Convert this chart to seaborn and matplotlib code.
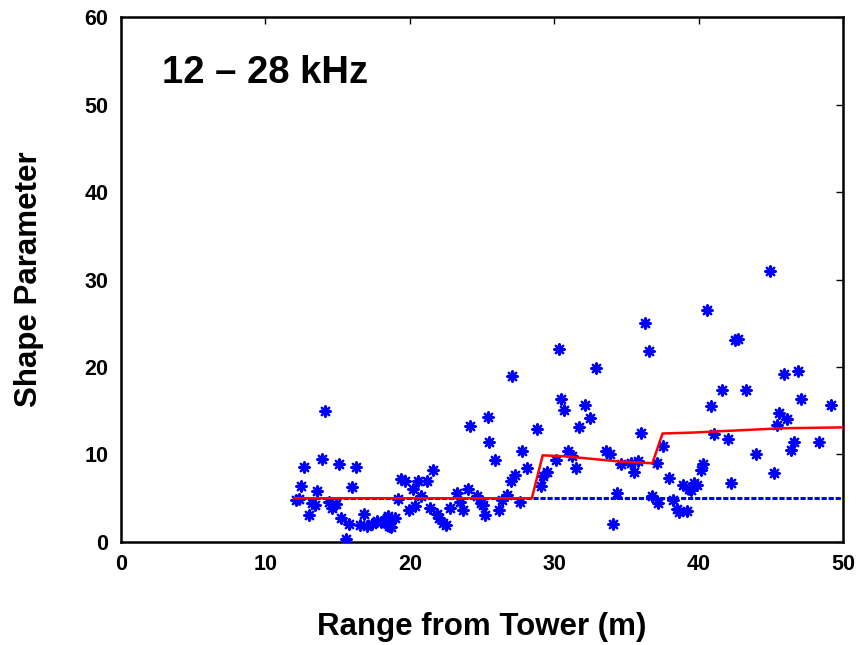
import numpy as np
import pandas as pd
import matplotlib
matplotlib.use("Agg")
import matplotlib.pyplot as plt
import seaborn as sns

# puntos medidos (rango en m, parametro de forma)
rango = [14.1, 12.7, 13.9, 15.1, 16.3, 12.45, 13.6, 16.0, 12.15, 13.2,
         13.45, 14.4, 14.6, 14.9, 13.0, 15.25, 15.8, 15.6, 16.8, 16.55,
         17.05, 17.4, 17.75, 18.0, 18.4, 18.55, 18.2, 18.5, 18.7, 18.95,
         19.2, 19.4, 19.7, 20.2, 20.6, 21.2, 21.6, 20.8, 19.95, 20.35,
         21.4, 21.9, 22.0, 22.3, 22.5, 22.8, 23.3, 23.5, 23.7, 24.0,
         24.2, 24.65, 24.9, 25.2, 25.4, 25.5, 25.9, 25.05, 26.15, 26.4,
         26.7, 27.1, 27.0, 27.3, 27.8, 28.1, 27.6, 28.8, 29.05, 29.25,
         29.5, 30.1, 30.3, 30.45, 30.7, 30.95, 31.2, 31.5, 31.7, 32.15,
         32.5, 32.9, 36.3, 36.55, 36.0, 33.6, 33.85, 34.6, 35.35, 35.8,
         35.5, 37.1, 37.5, 34.35, 34.1, 36.8, 37.2, 37.95, 38.25, 38.5,
         38.65, 39.2, 38.9, 39.3, 44.95, 40.6, 42.5, 42.75, 41.6, 43.3,
         40.85, 41.05, 42.05, 43.95, 45.6, 45.4, 45.2, 42.25, 40.3, 40.15,
         39.5, 39.7, 39.9, 45.9, 46.9, 47.1, 49.2, 46.1, 46.6, 46.4,
         48.35, 12.3]
forma = [15.0, 8.6, 9.5, 8.9, 8.6, 6.4, 5.8, 6.3, 4.8, 4.5,
         4.2, 4.6, 3.9, 4.3, 3.1, 2.75, 2.0, 0.3, 3.2, 1.95,
         1.8, 2.1, 2.4, 2.3, 2.7, 1.8, 2.3, 3.0, 1.7, 2.7,
         4.9, 7.25, 7.0, 6.1, 7.0, 7.0, 8.25, 5.3, 3.6, 4.1,
         3.9, 3.2, 2.7, 2.2, 1.9, 3.9, 5.6, 4.6, 3.7, 6.0,
         13.3, 5.2, 4.4, 3.1, 14.3, 11.4, 9.4, 4.2, 3.6, 4.8,
         5.4, 19.0, 7.0, 7.7, 10.4, 8.5, 4.6, 12.9, 6.45, 7.5,
         8.0, 9.4, 22.1, 16.3, 15.1, 10.35, 9.8, 8.5, 13.1, 15.7,
         14.2, 19.9, 25.05, 21.8, 12.45, 10.35, 10.0, 8.9, 9.0, 9.2,
         8.05, 9.0, 11.0, 5.6, 2.06, 5.2, 4.5, 7.3, 4.8, 3.75,
         3.4, 3.5, 6.5, 6.0, 31.0, 26.5, 23.05, 23.2, 17.4, 17.35,
         15.6, 12.3, 11.75, 10.05, 14.7, 13.4, 7.9, 6.7, 8.9, 8.2,
         5.95, 6.7, 6.5, 19.25, 19.5, 16.3, 15.7, 14.1, 11.4, 10.5,
         11.4, 4.9]

# linea constante (azul discontinua)
x_const = [12.0, 50.0]
y_const = [5.0, 5.0]

# ajuste por tramos (rojo)
x_tramos = [12.0, 28.45, 29.2, 30.7, 32.6, 34.5, 36.8, 37.5, 39.5, 45.8, 50.0]
y_tramos = [5.0, 5.0, 9.9, 9.8, 9.5, 9.2, 9.0, 12.4, 12.5, 13.0, 13.1]

df = pd.DataFrame({"rango": rango, "forma": forma})
df_const = pd.DataFrame({"x": x_const, "y": y_const})
df_tramos = pd.DataFrame({"x": x_tramos, "y": y_tramos})

sns.set_style("white")
plt.rcParams['font.family'] = ['Liberation Sans', 'DejaVu Sans']
plt.rcParams['font.weight'] = 'bold'
plt.rcParams['text.color'] = 'black'
plt.rcParams['axes.labelcolor'] = 'black'

fig = plt.figure(figsize=(8.57, 6.45), dpi=100)
ax = fig.add_axes([0.1412, 0.1597, 0.8425, 0.8139])

sns.scatterplot(data=df, x="rango", y="forma", ax=ax, marker=(8, 2, 0),
                s=55, color="#0000ff", edgecolor="#0000ff", linewidth=1.7,
                zorder=3, legend=False)
sns.lineplot(data=df_const, x="x", y="y", ax=ax, color="#0000ff",
             linewidth=2.2, dashes=False, zorder=2, legend=False)
ax.lines[-1].set_linestyle((0, (1.7, 0.6)))
sns.lineplot(data=df_tramos, x="x", y="y", ax=ax, color="#ff0000",
             linewidth=1.8, sort=False, estimator=None, zorder=4, legend=False)

ax.set_xlim(0, 50)
ax.set_ylim(0, 60)
ax.set_xticks([0, 10, 20, 30, 40, 50])
ax.set_yticks([0, 10, 20, 30, 40, 50, 60])
ax.tick_params(direction="in", length=5, width=1, top=True, right=True,
               labelsize=15.5, pad=9, colors="black")
for lab in ax.get_xticklabels() + ax.get_yticklabels():
    lab.set_fontweight("bold")
for sp in ax.spines.values():
    sp.set_linewidth(1.8)
    sp.set_color("black")

ax.set_xlabel("Range from Tower (m)", fontsize=22.5, fontweight="bold", labelpad=26)
ax.set_ylabel("Shape Parameter", fontsize=22.5, fontweight="bold", labelpad=29)
ax.text(0.057, 0.875, "12 – 28 kHz", transform=ax.transAxes, fontsize=27.5,
        fontweight="bold", ha="left", va="baseline")

fig.savefig("out.png", dpi=100)
